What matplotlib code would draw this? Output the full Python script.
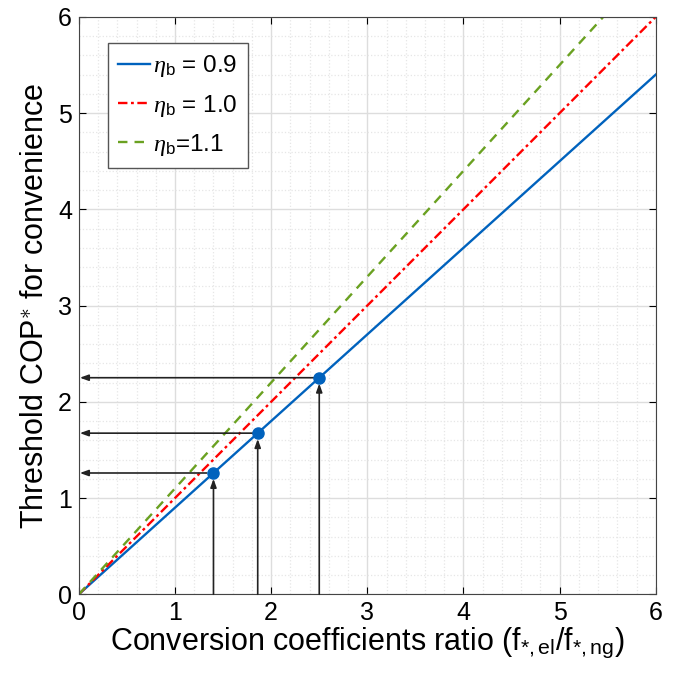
import numpy as np
import matplotlib.pyplot as plt
from matplotlib.ticker import MultipleLocator

plt.rcParams['font.family'] = ['Liberation Sans', 'DejaVu Sans']
plt.rcParams['mathtext.fontset'] = 'custom'
plt.rcParams['mathtext.it'] = 'Liberation Serif:italic'
plt.rcParams['mathtext.rm'] = 'Liberation Sans'

# ratio f_el/f_ng and boiler efficiencies
ratio = [0, 6]
eta_b = [0.9, 1.0, 1.1]
eta_labels = [r'$\eta_{\rm b}$ = 0.9', r'$\eta_{\rm b}$ = 1.0', r'$\eta_{\rm b}$=1.1']

# marked operating points on the eta_b = 0.9 line
pt_x = [1.4, 1.86, 2.5]
pt_y = [1.26, 1.674, 2.25]
# where the horizontal arrows start
harrow_start = [1.33, 1.82, 2.5]

colors = ['#0062BD', '#FF0000', '#6AA121']
styles = ['-', (0, (4, 1.5, 1.2, 1.5)), (0, (4, 3))]

fig = plt.figure(figsize=(6.74, 6.73), dpi=100)
ax = fig.add_axes([0.117, 0.117, 0.856, 0.858])

for eta, c, ls, lab in zip(eta_b, colors, styles, eta_labels):
    y = [eta * r for r in ratio]
    ax.plot(ratio, y, color=c, linestyle=ls, linewidth=1.7, label=lab)

ax.plot(pt_x, pt_y, 'o', color='#0062BD', markersize=8, zorder=5)

arrow_kw = dict(arrowstyle='-|>,head_length=0.5,head_width=0.18', color='#222222', lw=1.2,
                shrinkA=0, shrinkB=0)
for px, py, hx in zip(pt_x, pt_y, harrow_start):
    ax.annotate('', xy=(px, py - 0.06), xytext=(px, 0), arrowprops=arrow_kw)
    ax.annotate('', xy=(0.01, py), xytext=(hx, py), arrowprops=arrow_kw)

ax.set_xlim(0, 6)
ax.set_ylim(0, 6)
ax.xaxis.set_major_locator(MultipleLocator(1))
ax.yaxis.set_major_locator(MultipleLocator(1))
ax.xaxis.set_minor_locator(MultipleLocator(0.2))
ax.yaxis.set_minor_locator(MultipleLocator(0.2))
ax.grid(which='major', color='#dddddd', linewidth=1.0)
ax.grid(which='minor', color='#e6e6e6', linestyle=':', linewidth=0.9)
ax.set_axisbelow(True)
ax.tick_params(which='both', direction='in', top=True, right=True, labelsize=18)
ax.tick_params(which='minor', length=0)
ax.tick_params(which='major', length=5, pad=5)
for s in ax.spines.values():
    s.set_color('#444444')

ax.set_xlabel(r'Conversion coefficients ratio (f$_{*,\rm el}$/f$_{*,\rm ng}$)', fontsize=22, labelpad=0)
ax.set_ylabel(r'Threshold COP$^{\ast}$ for convenience', fontsize=22, labelpad=6)

leg = ax.legend(loc='upper left', bbox_to_anchor=(0.03, 0.975), fontsize=17.5, handlelength=1.3,
                handletextpad=0.15, borderpad=0.4, labelspacing=0.55, fancybox=False,
                framealpha=1, edgecolor='#555555')
leg.get_frame().set_linewidth(1.0)

fig.savefig('out.png', dpi=100)
